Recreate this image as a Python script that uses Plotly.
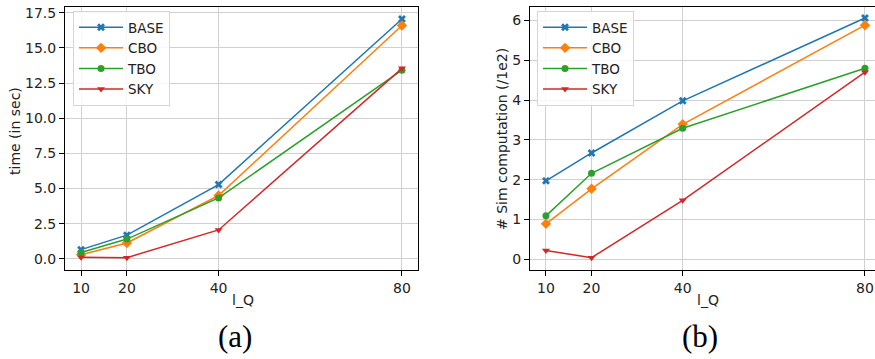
import plotly.graph_objects as go

l_q = [10, 20, 40, 80]
series_names = ["BASE", "CBO", "TBO", "SKY"]

time_base = [0.65, 1.68, 5.28, 17.06]
time_cbo = [0.28, 1.12, 4.5, 16.6]
time_tbo = [0.45, 1.4, 4.33, 13.42]
time_sky = [0.1, 0.08, 2.05, 13.55]

sim_base = [1.97, 2.67, 3.98, 6.06]
sim_cbo = [0.89, 1.77, 3.39, 5.88]
sim_tbo = [1.09, 2.16, 3.29, 4.8]
sim_sky = [0.22, 0.04, 1.48, 4.7]

time_ticks = [0, 2.5, 5, 7.5, 10, 12.5, 15, 17.5]
time_ticktext = ["0.0", "2.5", "5.0", "7.5", "10.0", "12.5", "15.0", "17.5"]
sim_ticks = [0, 1, 2, 3, 4, 5, 6]

colors = ["#1f77b4", "#ff7f0e", "#2ca02c", "#d62728"]
symbols = ["x", "diamond", "circle", "triangle-down"]
sizes = [7, 8, 7, 7]

W, H = 875, 359
fig = go.Figure()

left = [time_base, time_cbo, time_tbo, time_sky]
right = [sim_base, sim_cbo, sim_tbo, sim_sky]

for i, name in enumerate(series_names):
    fig.add_trace(go.Scatter(x=l_q, y=left[i], name=name, mode="lines+markers",
                             line=dict(color=colors[i], width=1.5),
                             marker=dict(symbol=symbols[i], size=sizes[i], color=colors[i]),
                             xaxis="x", yaxis="y", legend="legend"))
for i, name in enumerate(series_names):
    fig.add_trace(go.Scatter(x=l_q, y=right[i], name=name, mode="lines+markers",
                             line=dict(color=colors[i], width=1.5),
                             marker=dict(symbol=symbols[i], size=sizes[i], color=colors[i]),
                             xaxis="x2", yaxis="y2", legend="legend2"))

font = dict(family="DejaVu Sans", size=14, color="#222222")
axis_common = dict(showline=True, linecolor="black", linewidth=1, ticks="outside",
                   ticklen=5, tickcolor="black", showgrid=True, gridcolor="#d0d0d0",
                   gridwidth=1, zeroline=False, tickfont=font, automargin=False)

yd = [1 - 270 / H, 1 - 6.5 / H]
legend_common = dict(xanchor="left", yanchor="top",
                     bgcolor="rgba(255,255,255,0.85)", bordercolor="#d5d5d5", borderwidth=1,
                     font=dict(family="DejaVu Sans", size=13.5, color="#222222"),
                     tracegroupgap=0, itemwidth=44)


def px(x, y):
    return x / W, 1 - y / H


annotations = []
for text, x, y, ang in [("time (in sec)", 15, 131, -90),
                        ("# Sim computation (/1e2)", 502, 139, -90),
                        ("l_Q", 243, 300, 0), ("l_Q", 708, 300, 0)]:
    ax_, ay_ = px(x, y)
    annotations.append(dict(text=text, x=ax_, y=ay_, xref="paper", yref="paper",
                            showarrow=False, textangle=ang, font=font,
                            xanchor="center", yanchor="middle"))
for text, x in [("(a)", 235), ("(b)", 700)]:
    ax_, ay_ = px(x, 336)
    annotations.append(dict(text=text, x=ax_, y=ay_, xref="paper", yref="paper",
                            showarrow=False, xanchor="center", yanchor="middle",
                            font=dict(family="Liberation Serif", size=31, color="black")))

fig.update_layout(
    width=W, height=H, margin=dict(l=0, r=0, t=0, b=0),
    plot_bgcolor="white", paper_bgcolor="white", font=font,
    xaxis=dict(domain=[65 / W, 418 / W], range=[6.5, 83.5], tickvals=l_q, mirror=True,
               anchor="y", **axis_common),
    yaxis=dict(domain=yd, range=[-0.8, 17.95], tickvals=time_ticks, ticktext=time_ticktext,
               mirror=True, anchor="x", **axis_common),
    xaxis2=dict(domain=[530 / W, 1.0], range=[6.5, 82.2], tickvals=l_q, mirror=True,
                anchor="y2", **axis_common),
    yaxis2=dict(domain=yd, range=[-0.27, 6.35], tickvals=sim_ticks, mirror=False,
                anchor="x2", **axis_common),
    legend=dict(x=73 / W, y=1 - 11 / H, **legend_common),
    legend2=dict(x=537 / W, y=1 - 11 / H, **legend_common),
    annotations=annotations,
)

fig.write_html("out.html", config={"displayModeBar": False},
               post_script="document.body.style.margin='0';document.body.style.overflow='hidden';")
